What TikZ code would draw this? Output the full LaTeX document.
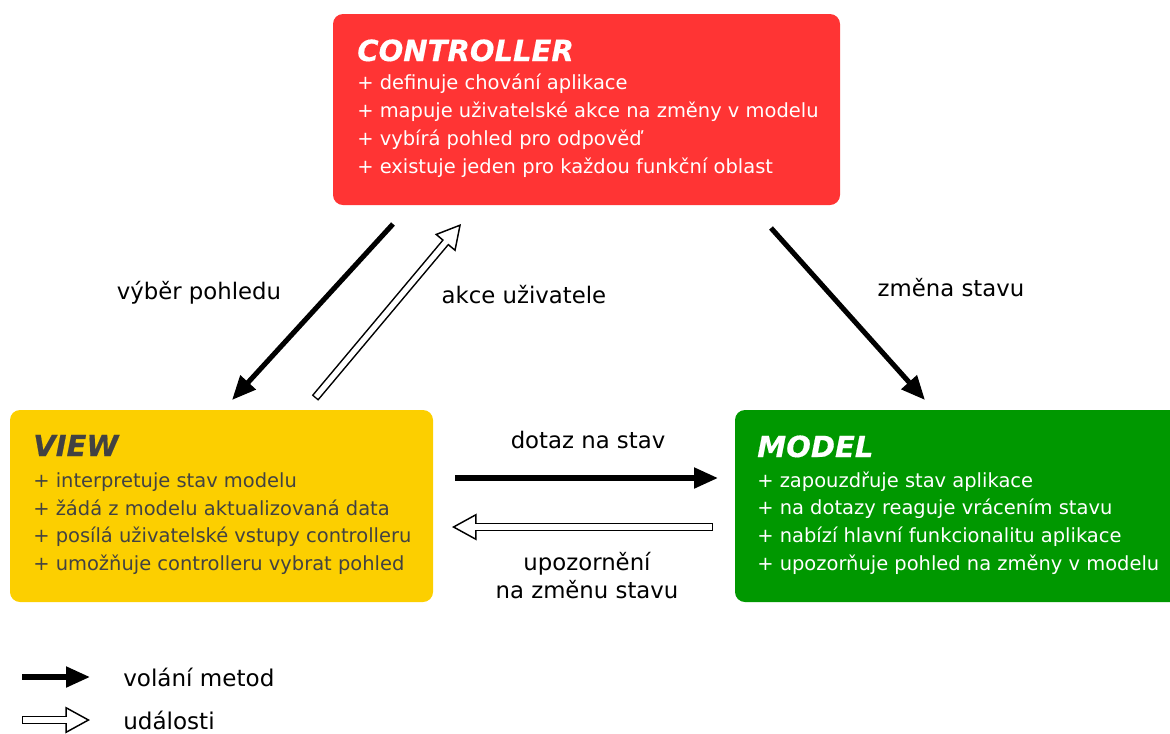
\documentclass[tikz,border=0pt]{standalone}
\usepackage{fontspec}
\setmainfont{DejaVu Sans}
\newfontfamily\titlefont{DejaVu Sans}[BoldItalicFeatures={FakeBold=0.5}]
\usetikzlibrary{arrows.meta}
\definecolor{ctrlred}{RGB}{255,52,52}
\definecolor{viewyellow}{RGB}{252,207,0}
\definecolor{modelgreen}{RGB}{0,152,0}
\definecolor{viewtext}{RGB}{66,66,66}
\tikzset{
  box/.style={rectangle, rounded corners=7.5pt, draw=none, inner sep=0pt},
  boxtitle/.style={anchor=base west, inner sep=0pt, font=\titlefont\fontsize{21.8pt}{24pt}\selectfont\bfseries\itshape},
  boxline/.style={anchor=base west, inner sep=0pt, font=\fontsize{14.6pt}{18pt}\selectfont},
  lbl/.style={anchor=base, inner sep=0pt, font=\fontsize{17.1pt}{20pt}\selectfont, text=black},
  legendlbl/.style={anchor=base west, inner sep=0pt, font=\fontsize{17.3pt}{20pt}\selectfont, text=black},
  call/.style={draw=black, line width=3.8pt, -{Triangle[length=18pt,width=15pt]}},
  evt/.style={draw=black, line width=6.3pt,
    -{Triangle[open, fill=white, line width=1.1pt, length=18.5pt, width=20pt]},
    postaction={draw=white, line width=4pt, -, shorten <=1.1pt, shorten >=17pt}},
}
\begin{document}
\begin{tikzpicture}[x=0.75pt, y=-0.75pt]
\useasboundingbox (0,0) rectangle (1170,733);
\clip (0,0) rectangle (1170,733);

% --- the three components ---
\node[box, fill=ctrlred, minimum width=380.25pt, minimum height=143.25pt] (ctrl) at (586.5,109.5) {};
\node[box, fill=viewyellow, minimum width=317.25pt, minimum height=144pt] (view) at (221.5,506) {};
\node[box, fill=modelgreen, minimum width=337.5pt, minimum height=144pt] (model) at (960,506) {};

% controller text
\node[boxtitle, text=white] (ctrlT) at (357,61) {CONTROLLER};
\node[boxline, text=white] (ctrl1) at (357,89) {+ definuje chování aplikace};
\node[boxline, text=white] (ctrl2) at (357,117) {+ mapuje uživatelské akce na změny v modelu};
\node[boxline, text=white] (ctrl3) at (357,145) {+ vybírá pohled pro odpověď};
\node[boxline, text=white] (ctrl4) at (357,173) {+ existuje jeden pro každou funkční oblast};

% view text
\node[boxtitle, text=viewtext] (viewT) at (33,456) {VIEW};
\node[boxline, text=viewtext] (view1) at (33,487) {+ interpretuje stav modelu};
\node[boxline, text=viewtext] (view2) at (33,515) {+ žádá z modelu aktualizovaná data};
\node[boxline, text=viewtext] (view3) at (33,542) {+ posílá uživatelské vstupy controlleru};
\node[boxline, text=viewtext] (view4) at (33,570) {+ umožňuje controlleru vybrat pohled};

% model text
\node[boxtitle, text=white] (modelT) at (757,457) {MODEL};
\node[boxline, text=white] (model1) at (757,487) {+ zapouzdřuje stav aplikace};
\node[boxline, text=white] (model2) at (757,514) {+ na dotazy reaguje vrácením stavu};
\node[boxline, text=white] (model3) at (757,542) {+ nabízí hlavní funkcionalitu aplikace};
\node[boxline, text=white] (model4) at (757,570) {+ upozorňuje pohled na změny v modelu};

% --- connector end points ---
\coordinate (cSelOut) at (393,224);
\coordinate (vSelIn) at (232,400);
\coordinate (vActOut) at (315,398);
\coordinate (cActIn) at (461,224);
\coordinate (cChgOut) at (771,228);
\coordinate (mChgIn) at (925,400);
\coordinate (vQryOut) at (455,478);
\coordinate (mQryIn) at (718,478);
\coordinate (mNtfOut) at (713,527);
\coordinate (vNtfIn) at (452,527);

% --- connectors ---
\draw[call] (cSelOut) -- (vSelIn);
\draw[evt] (vActOut) -- (cActIn);
\draw[call] (cChgOut) -- (mChgIn);
\draw[call] (vQryOut) -- (mQryIn);
\draw[evt] (mNtfOut) -- (vNtfIn);

% --- connector labels ---
\node[lbl] (lSel) at (199,299) {výběr pohledu};
\node[lbl] (lAct) at (524,303) {akce uživatele};
\node[lbl] (lChg) at (951,296) {změna stavu};
\node[lbl] (lQry) at (588,448) {dotaz na stav};
\node[lbl] (lNtf1) at (587,570) {upozornění};
\node[lbl] (lNtf2) at (587,598) {na změnu stavu};

% --- legend ---
\coordinate (kCallA) at (22,677);
\coordinate (kCallB) at (90,677);
\coordinate (kEvtA) at (22,720);
\coordinate (kEvtB) at (90,720);
\draw[call] (kCallA) -- (kCallB);
\draw[evt] (kEvtA) -- (kEvtB);
\node[legendlbl] (kCall) at (123,686) {volání metod};
\node[legendlbl] (kEvt) at (123,729) {události};
\end{tikzpicture}
\end{document}
